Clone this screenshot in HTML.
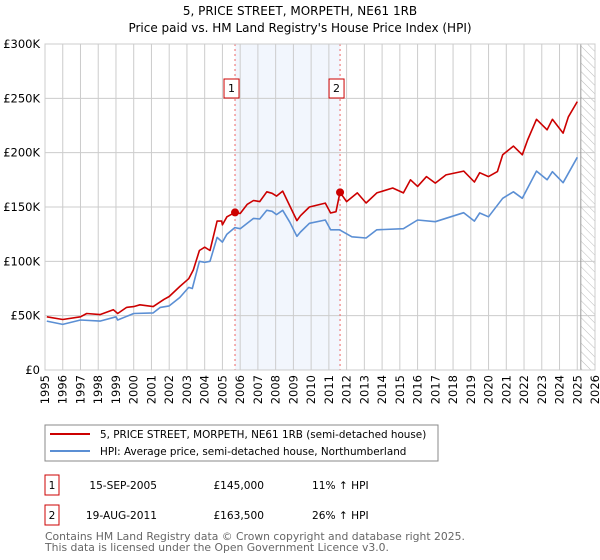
<!DOCTYPE html>
<html><head><meta charset="utf-8"><style>
body{margin:0;background:#fff;font-family:"DejaVu Sans","Liberation Sans",sans-serif}
svg{display:block}
</style></head><body>
<svg id="c" width="600" height="560" xmlns="http://www.w3.org/2000/svg" font-family="DejaVu Sans, Liberation Sans, sans-serif">
<defs><pattern id="hatch" width="6" height="6" patternUnits="userSpaceOnUse" patternTransform="rotate(-45)"><line x1="0" y1="0" x2="0" y2="6" stroke="#bbb" stroke-width="1"/></pattern></defs>
<text x="300" y="15" text-anchor="middle" font-size="12">5, PRICE STREET, MORPETH, NE61 1RB</text>
<text x="300" y="32" text-anchor="middle" font-size="12">Price paid vs. HM Land Registry's House Price Index (HPI)</text>
<g id="plot"></g>
<g>
<rect x="45" y="425" width="393" height="36" fill="#fff" stroke="#888"/>
<line x1="50" y1="434" x2="90" y2="434" stroke="#cc0000" stroke-width="2"/>
<text x="100" y="438" font-size="10.4">5, PRICE STREET, MORPETH, NE61 1RB (semi-detached house)</text>
<line x1="50" y1="451" x2="90" y2="451" stroke="#5b8fd4" stroke-width="2"/>
<text x="100" y="455" font-size="10.4">HPI: Average price, semi-detached house, Northumberland</text>
</g>
<g font-size="10.6">
<rect x="45" y="475" width="14" height="20" fill="#fff" stroke="#cc0000"/><text x="52" y="489" text-anchor="middle">1</text>
<text x="157" y="489" text-anchor="end">15-SEP-2005</text><text x="264" y="489" text-anchor="end">£145,000</text><text x="312" y="489">11% ↑ HPI</text>
<rect x="45" y="505" width="14" height="20" fill="#fff" stroke="#cc0000"/><text x="52" y="519" text-anchor="middle">2</text>
<text x="157" y="519" text-anchor="end">19-AUG-2011</text><text x="264" y="519" text-anchor="end">£163,500</text><text x="312" y="519">26% ↑ HPI</text>
</g>
<text x="45" y="540" font-size="10.8" fill="#666">Contains HM Land Registry data © Crown copyright and database right 2025.</text>
<text x="45" y="551" font-size="10.8" fill="#666">This data is licensed under the Open Government Licence v3.0.</text>
</svg>
<script>
const yTicks=[0,50,100,150,200,250,300];
const yLabels=["£0","£50K","£100K","£150K","£200K","£250K","£300K"];
const years=[1995,1996,1997,1998,1999,2000,2001,2002,2003,2004,2005,2006,2007,2008,2009,2010,2011,2012,2013,2014,2015,2016,2017,2018,2019,2020,2021,2022,2023,2024,2025,2026];
const redT=[1995.1,1996,1997,1997.35,1998.1,1998.85,1999.1,1999.6,2000,2000.35,2001.1,2001.7,2002,2002.6,2003.1,2003.36,2003.7,2004,2004.3,2004.7,2004.96,2005.0,2005.25,2005.71,2006,2006.4,2006.75,2007.1,2007.5,2007.8,2008.05,2008.4,2008.8,2009.2,2009.4,2009.9,2010.8,2011.1,2011.4,2011.63,2012,2012.6,2013.1,2013.7,2014.6,2015.2,2015.6,2016,2016.5,2017,2017.6,2018.6,2019.2,2019.5,2020,2020.5,2020.8,2021.4,2021.9,2022.2,2022.7,2023.3,2023.6,2024.2,2024.5,2025];
const redV=[49,46.5,49,52,51,55.5,52,57.6,58.3,60,58.3,65,67.6,76.8,84,92,110,113,110,137,137,133.5,141,145,144,152.5,156,155,164,162.6,160,164.6,151,137.5,142,150,153.6,144.5,145.7,163.5,155,163,153.7,163,167.5,163,175,169,178,172,179.5,183,173,181.6,178,182.6,198,206,198,211.7,230.7,221,230.7,218,233,247];
const blueT=[1995.1,1996,1997,1998.1,1999,1999.1,2000,2001.1,2001.5,2002,2002.6,2003.1,2003.3,2003.7,2004,2004.3,2004.7,2005.0,2005.25,2005.7,2006,2006.75,2007.1,2007.5,2007.8,2008.05,2008.4,2008.8,2009.2,2009.4,2009.9,2010.8,2011.1,2011.6,2012.3,2013.1,2013.7,2015.2,2016,2017,2018.6,2019.2,2019.5,2020,2020.8,2021.4,2021.9,2022.7,2023.3,2023.6,2024.2,2025];
const blueV=[45,42,46,45,49,46,52,52.5,57.6,59,66.7,76,75,100,99,100,122,117.7,125,131,130,139.5,139,147,146,143,147,136,123,127,135,138,129,129,122.6,121.5,129,130,138,136.5,144.8,137,144.5,141,158,164,158,183,175,182.5,172.4,195.7];
const saleT=[2005.71,2011.63];
const saleV=[145,163.5];
const saleLabels=["1","2"];
const X0=45,X1=595,Y0=370,Y1=44;
const xs=t=>X0+(t-1995)/(2026-1995)*(X1-X0);
const ys=v=>Y0-v/300*(Y0-Y1);
const NS="http://www.w3.org/2000/svg";
const g=document.getElementById('plot');
function mk(tag,at,parent){const e=document.createElementNS(NS,tag);for(const k in at)e.setAttribute(k,at[k]);(parent||g).appendChild(e);return e;}
let e;
e=mk('rect',{x:xs(saleT[0]),y:Y1,width:xs(saleT[1])-xs(saleT[0]),height:Y0-Y1,fill:'#eef3fc',opacity:0.75});


e=mk('rect',{x:xs(2025.2),y:Y1,width:X1-xs(2025.2),height:Y0-Y1,fill:'url(#hatch)'});


years.forEach(y=>{
 e=mk('line',{x1:xs(y),x2:xs(y),y1:Y1,y2:Y0,stroke:'#ccc','stroke-width':1});
 
 
 const tx=xs(y)+4;
 e=mk('text',{x:tx,y:375,transform:`rotate(-90 ${tx} 375)`,'text-anchor':'end','font-size':'11.5'});
 e.textContent=y;
 
 
});
yTicks.forEach((v,i)=>{
 e=mk('line',{x1:X0,x2:X1,y1:ys(v),y2:ys(v),stroke:'#ccc','stroke-width':1});
 
 
 e=mk('text',{x:40,y:ys(v)+4,'text-anchor':'end','font-size':'11.5'});
 e.textContent=yLabels[i];
 
 
});
e=mk('line',{x1:xs(2025.2),x2:xs(2025.2),y1:Y1,y2:Y0,stroke:'#999','stroke-width':1});


saleT.forEach((t,i)=>{
 e=mk('line',{x1:xs(t),x2:xs(t),y1:Y1,y2:Y0,stroke:'#e66','stroke-width':1,'stroke-dasharray':'2,3'});
 
 
 e=mk('rect',{x:xs(t)-11,y:79,width:15,height:19,fill:'#fff',stroke:'#cc0000'});
 
 
 e=mk('text',{x:xs(t)-3.5,y:92,'text-anchor':'middle','font-size':'11'});
 e.textContent=saleLabels[i];
 
 
});
function line(T,V,col,name){
 e=mk('polyline',{points:T.map((t,i)=>xs(t).toFixed(1)+','+ys(V[i]).toFixed(1)).join(' '),fill:'none',stroke:col,'stroke-width':1.6,'stroke-linejoin':'round'});
 
 
}
line(blueT,blueV,'#5b8fd4','hpi-line');
line(redT,redV,'#cc0000','property-price-line');
saleT.forEach((t,i)=>{
 e=mk('circle',{cx:xs(t),cy:ys(saleV[i]),r:4,fill:'#cc0000'});
 
 
});
e=mk('rect',{x:X0,y:Y1,width:X1-X0,height:Y0-Y1,fill:'none',stroke:'#ccc'});


</script>
</body></html>
